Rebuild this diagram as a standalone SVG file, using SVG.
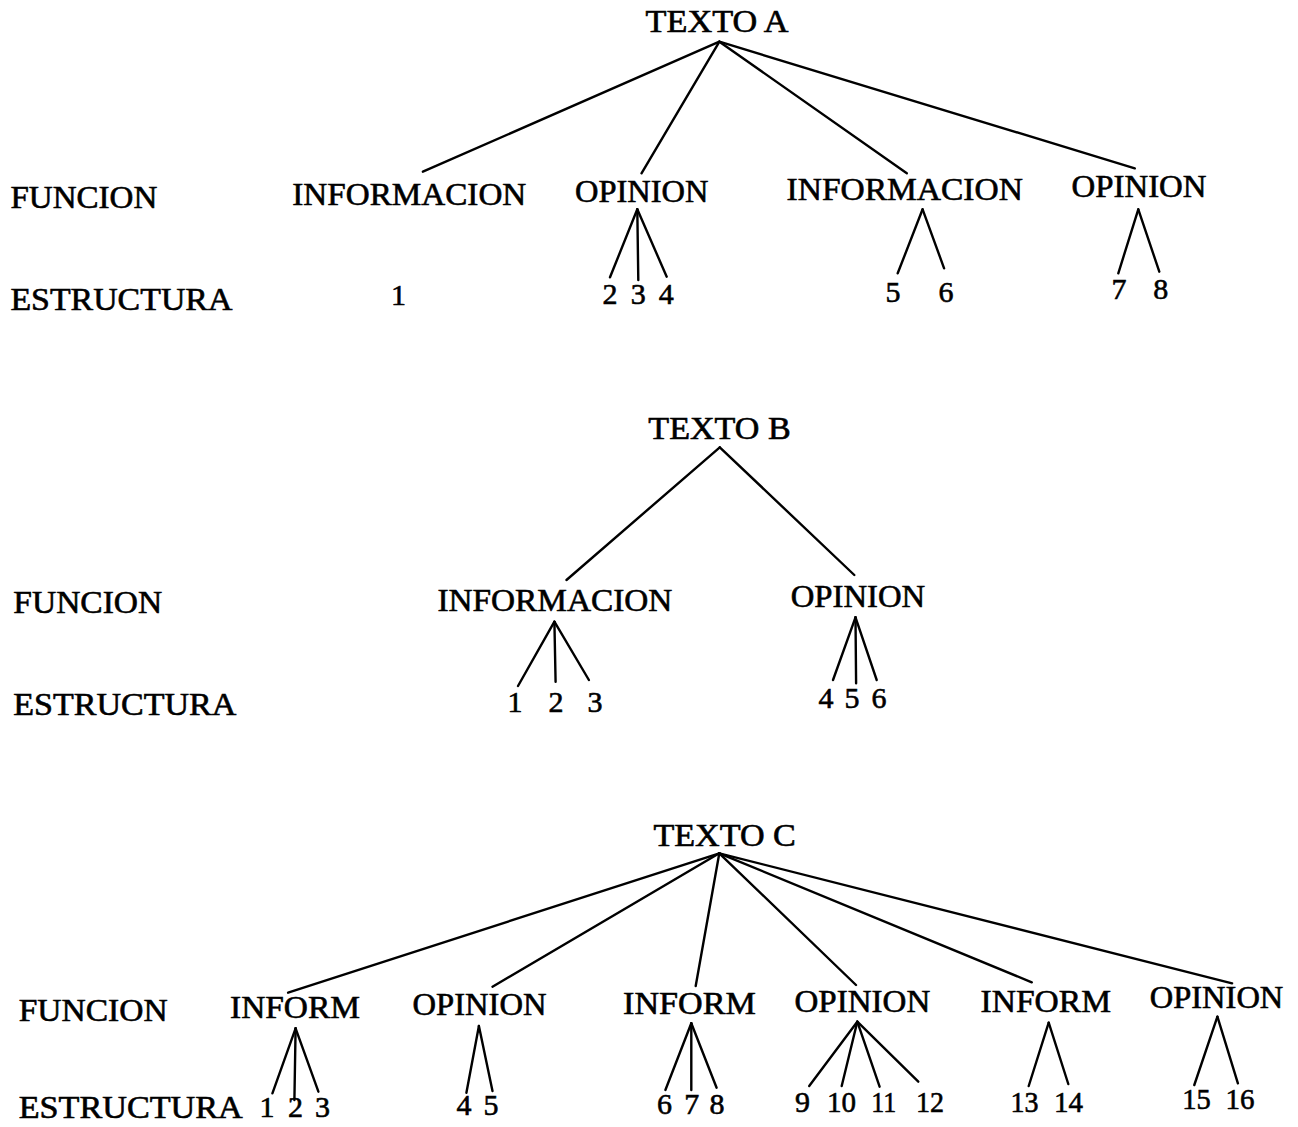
<svg xmlns="http://www.w3.org/2000/svg" width="1298" height="1127" viewBox="0 0 1298 1127">
<style>
.t{font-family:"Liberation Serif","Times New Roman",serif;font-size:31px;fill:#000;stroke:#000;stroke-width:0.6}
.n{text-anchor:middle;font-size:30px}
.e line{stroke:#000;stroke-width:2.4;stroke-linecap:round}
</style>
<rect width="1298" height="1127" fill="#fff"/>
<g id="labels">
<text class="t" x="10.4" y="208" textLength="147" lengthAdjust="spacingAndGlyphs">FUNCION</text>
<text class="t" x="10.4" y="310" textLength="222" lengthAdjust="spacingAndGlyphs">ESTRUCTURA</text>
<text class="t" x="13.3" y="613" textLength="149" lengthAdjust="spacingAndGlyphs">FUNCION</text>
<text class="t" x="13.3" y="715" textLength="223" lengthAdjust="spacingAndGlyphs">ESTRUCTURA</text>
<text class="t" x="18.7" y="1021" textLength="149" lengthAdjust="spacingAndGlyphs">FUNCION</text>
<text class="t" x="18.7" y="1118" textLength="224" lengthAdjust="spacingAndGlyphs">ESTRUCTURA</text>
</g>
<g id="textoA"><text class="t" x="645.6" y="32" textLength="143" lengthAdjust="spacingAndGlyphs">TEXTO A</text></g>
<g id="A_inf1"><text class="t" x="292.3" y="205" textLength="234" lengthAdjust="spacingAndGlyphs">INFORMACION</text></g>
<g id="A_op1"><text class="t" x="575" y="202" textLength="133.5" lengthAdjust="spacingAndGlyphs">OPINION</text></g>
<g id="A_inf2"><text class="t" x="786.6" y="200" textLength="236.3" lengthAdjust="spacingAndGlyphs">INFORMACION</text></g>
<g id="A_op2"><text class="t" x="1071.5" y="197" textLength="135" lengthAdjust="spacingAndGlyphs">OPINION</text></g>
<g id="A_nums">
<text class="t n" x="398.5" y="305">1</text>
<text class="t n" x="610" y="304">2</text>
<text class="t n" x="638.3" y="304">3</text>
<text class="t n" x="666.3" y="304">4</text>
<text class="t n" x="893" y="302">5</text>
<text class="t n" x="946" y="302">6</text>
<text class="t n" x="1119" y="299">7</text>
<text class="t n" x="1160.7" y="299">8</text>
</g>
<g id="textoB"><text class="t" x="648.3" y="439" textLength="142.4" lengthAdjust="spacingAndGlyphs">TEXTO B</text></g>
<g id="B_inf"><text class="t" x="437.4" y="611" textLength="235" lengthAdjust="spacingAndGlyphs">INFORMACION</text></g>
<g id="B_op"><text class="t" x="790.7" y="607" textLength="134.5" lengthAdjust="spacingAndGlyphs">OPINION</text></g>
<g id="B_nums">
<text class="t n" x="515" y="712">1</text>
<text class="t n" x="556" y="712">2</text>
<text class="t n" x="595" y="712">3</text>
<text class="t n" x="826" y="708">4</text>
<text class="t n" x="852" y="708">5</text>
<text class="t n" x="879" y="708">6</text>
</g>
<g id="textoC"><text class="t" x="653.4" y="846" textLength="142.5" lengthAdjust="spacingAndGlyphs">TEXTO C</text></g>
<g id="C_inf1"><text class="t" x="230" y="1018" textLength="130" lengthAdjust="spacingAndGlyphs">INFORM</text></g>
<g id="C_op2"><text class="t" x="412.5" y="1015" textLength="134" lengthAdjust="spacingAndGlyphs">OPINION</text></g>
<g id="C_inf3"><text class="t" x="623.1" y="1014" textLength="132.7" lengthAdjust="spacingAndGlyphs">INFORM</text></g>
<g id="C_op4"><text class="t" x="794.5" y="1012" textLength="135.8" lengthAdjust="spacingAndGlyphs">OPINION</text></g>
<g id="C_inf5"><text class="t" x="980.6" y="1012" textLength="130.4" lengthAdjust="spacingAndGlyphs">INFORM</text></g>
<g id="C_op6"><text class="t" x="1149.8" y="1008" textLength="133.5" lengthAdjust="spacingAndGlyphs">OPINION</text></g>
<g id="C_nums">
<text class="t n" x="267" y="1117">1</text>
<text class="t n" x="295.5" y="1117">2</text>
<text class="t n" x="322.5" y="1117">3</text>
<text class="t n" x="464" y="1115">4</text>
<text class="t n" x="491" y="1115">5</text>
<text class="t n" x="664.5" y="1114">6</text>
<text class="t n" x="691.7" y="1114">7</text>
<text class="t n" x="717" y="1114">8</text>
<text class="t n" x="802.5" y="1112">9</text>
<text class="t n" x="841.5" y="1112" textLength="29" lengthAdjust="spacingAndGlyphs">10</text>
<text class="t n" x="883.7" y="1112" textLength="25" lengthAdjust="spacingAndGlyphs">11</text>
<text class="t n" x="930" y="1112" textLength="28" lengthAdjust="spacingAndGlyphs">12</text>
<text class="t n" x="1024.5" y="1112" textLength="28" lengthAdjust="spacingAndGlyphs">13</text>
<text class="t n" x="1068.5" y="1112" textLength="29" lengthAdjust="spacingAndGlyphs">14</text>
<text class="t n" x="1196.5" y="1109" textLength="28.5" lengthAdjust="spacingAndGlyphs">15</text>
<text class="t n" x="1240" y="1109" textLength="29" lengthAdjust="spacingAndGlyphs">16</text>
</g>
<g id="connectors" class="e">
<line x1="719.4" y1="41.7" x2="422.9" y2="171.7"/>
<line x1="719.4" y1="41.7" x2="641.5" y2="173.3"/>
<line x1="719.4" y1="41.7" x2="906.8" y2="173.3"/>
<line x1="719.4" y1="41.7" x2="1134.8" y2="168.3"/>
<line x1="637.3" y1="209.3" x2="610" y2="277.3"/>
<line x1="637.3" y1="209.3" x2="638.3" y2="280"/>
<line x1="637.3" y1="209.3" x2="666.7" y2="276.7"/>
<line x1="922.6" y1="209.3" x2="897.7" y2="273.3"/>
<line x1="922.6" y1="209.3" x2="944.1" y2="268.3"/>
<line x1="1138.3" y1="209.3" x2="1118.3" y2="273.3"/>
<line x1="1138.3" y1="209.3" x2="1159.3" y2="271.7"/>
<line x1="719.8" y1="447.3" x2="566.5" y2="580"/>
<line x1="719.8" y1="447.3" x2="854.3" y2="575"/>
<line x1="554.4" y1="621.7" x2="518" y2="686"/>
<line x1="554.4" y1="621.7" x2="555.6" y2="681.7"/>
<line x1="554.4" y1="621.7" x2="588.9" y2="680"/>
<line x1="855.5" y1="617.3" x2="833" y2="680"/>
<line x1="855.5" y1="617.3" x2="856.1" y2="683.3"/>
<line x1="855.5" y1="617.3" x2="876.7" y2="680"/>
<line x1="719.3" y1="853.3" x2="288.1" y2="992.7"/>
<line x1="719.3" y1="853.3" x2="492.5" y2="986.7"/>
<line x1="719.3" y1="853.3" x2="695.7" y2="986"/>
<line x1="719.3" y1="853.3" x2="856" y2="985"/>
<line x1="719.3" y1="853.3" x2="1031.8" y2="982.3"/>
<line x1="719.3" y1="853.3" x2="1232.1" y2="983.3"/>
<line x1="295.6" y1="1028.3" x2="272.4" y2="1093.3"/>
<line x1="295.6" y1="1028.3" x2="294.4" y2="1100"/>
<line x1="295.6" y1="1028.3" x2="318.4" y2="1091.7"/>
<line x1="478.9" y1="1026" x2="466.4" y2="1092.7"/>
<line x1="478.9" y1="1026" x2="492.5" y2="1091"/>
<line x1="691.3" y1="1023.3" x2="665.4" y2="1090"/>
<line x1="691.3" y1="1023.3" x2="691.3" y2="1090"/>
<line x1="691.3" y1="1023.3" x2="716.6" y2="1087.7"/>
<line x1="857.3" y1="1021.7" x2="809.2" y2="1086"/>
<line x1="857.3" y1="1021.7" x2="841.7" y2="1086"/>
<line x1="857.3" y1="1021.7" x2="879.6" y2="1086.7"/>
<line x1="857.3" y1="1021.7" x2="918.3" y2="1081.7"/>
<line x1="1048.7" y1="1022.7" x2="1028.7" y2="1086"/>
<line x1="1048.7" y1="1022.7" x2="1068.3" y2="1084"/>
<line x1="1217.4" y1="1016.7" x2="1194.3" y2="1085"/>
<line x1="1217.4" y1="1016.7" x2="1237.9" y2="1083.3"/>
</g>
</svg>
